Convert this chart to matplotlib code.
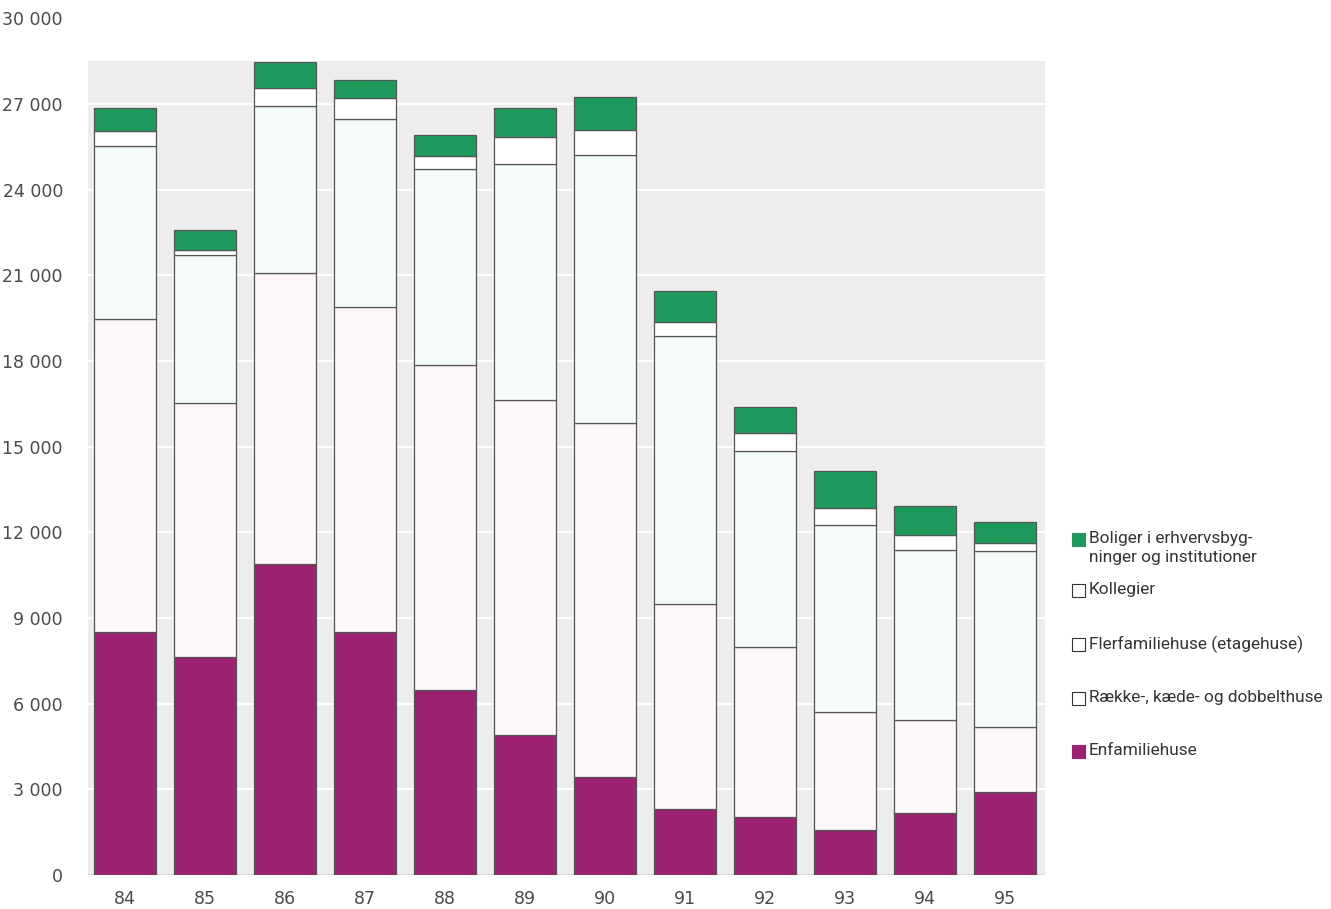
import numpy as np
import matplotlib
matplotlib.use('Agg')
import matplotlib.pyplot as plt

# data (number of dwellings)
years = ['84', '85', '86', '87', '88', '89', '90', '91', '92', '93', '94', '95']
enfamilie = [8500, 7650, 10900, 8500, 6480, 4900, 3430, 2310, 2020, 1580, 2180, 2900]
raekke = [10950, 8870, 10180, 11400, 11370, 11720, 12390, 7170, 5960, 4110, 3230, 2290]
fler = [6060, 5180, 5850, 6560, 6860, 8260, 9380, 9380, 6880, 6560, 5960, 6150]
kollegier = [530, 200, 640, 730, 460, 950, 880, 490, 630, 600, 530, 270]
boliger = [800, 700, 880, 640, 730, 1010, 1150, 1090, 880, 1290, 1020, 760]

labels = ['Boliger i erhvervsbyg-\nninger og institutioner', 'Kollegier',
          'Flerfamiliehuse (etagehuse)', 'Række-, kæde- og dobbelthuse', 'Enfamiliehuse']
yticks = [0, 3000, 6000, 9000, 12000, 15000, 18000, 21000, 24000, 27000, 30000]

plt.rcParams['font.family'] = ['DejaVu Sans']
fig = plt.figure(figsize=(13.31, 9.09), dpi=100)
ax = fig.add_axes([0.0661, 0.0374, 0.7190, 0.9426])

x = np.arange(len(years))
series = [enfamilie, raekke, fler, kollegier, boliger]
colors = ['#9c2171', '#fdf7fa', '#f5fbfb', '#ffffff', '#1f9a5d']

# grey panel behind bars with white grid lines
ax.axhspan(0, 28500, color='#ededed', zorder=0, lw=0)
for t in yticks[1:-1]:
    ax.axhline(t, color='white', lw=1.6, zorder=0.5)

bottom = np.zeros(len(years))
for vals, col in zip(series, colors):
    ax.bar(x, vals, width=0.775, bottom=bottom, color=col, edgecolor='#555555',
           linewidth=0.9, zorder=2)
    bottom = bottom + np.array(vals)

ax.axhline(0, color='#999999', lw=1, zorder=1)

ax.set_xlim(-0.4625, 11.5)
ax.set_ylim(0, 30000)
ax.set_xticks(x)
ax.set_xticklabels(years)
ax.set_yticks(yticks)
ax.set_yticklabels(['{:,}'.format(t).replace(',', ' ') for t in yticks])
ax.tick_params(length=0, labelsize=12.5, colors='#4a4a4a')
ax.tick_params(axis='y', pad=18)
ax.tick_params(axis='x', pad=11)
for s in ax.spines.values():
    s.set_visible(False)

# legend drawn by hand on the right
leg_y = [540, 591, 645, 699, 752]
leg_cols = ['#1f9a5d', 'white', 'white', 'white', '#9c2171']
for lab, yy, col in zip(labels, leg_y, leg_cols):
    fy = 1 - yy / 909
    fig.patches.append(plt.Rectangle((1072 / 1331, fy - 6 / 909), 13 / 1331, 13 / 909,
                                     transform=fig.transFigure, facecolor=col,
                                     edgecolor='#333333' if col == 'white' else col, lw=0.8))
    fig.text(1089 / 1331, fy + 9 / 909, lab, fontsize=12.4, color='#333333',
             family=['Roboto', 'DejaVu Sans'], va='top', ha='left', linespacing=1.3)

fig.savefig('out.png', dpi=100)
